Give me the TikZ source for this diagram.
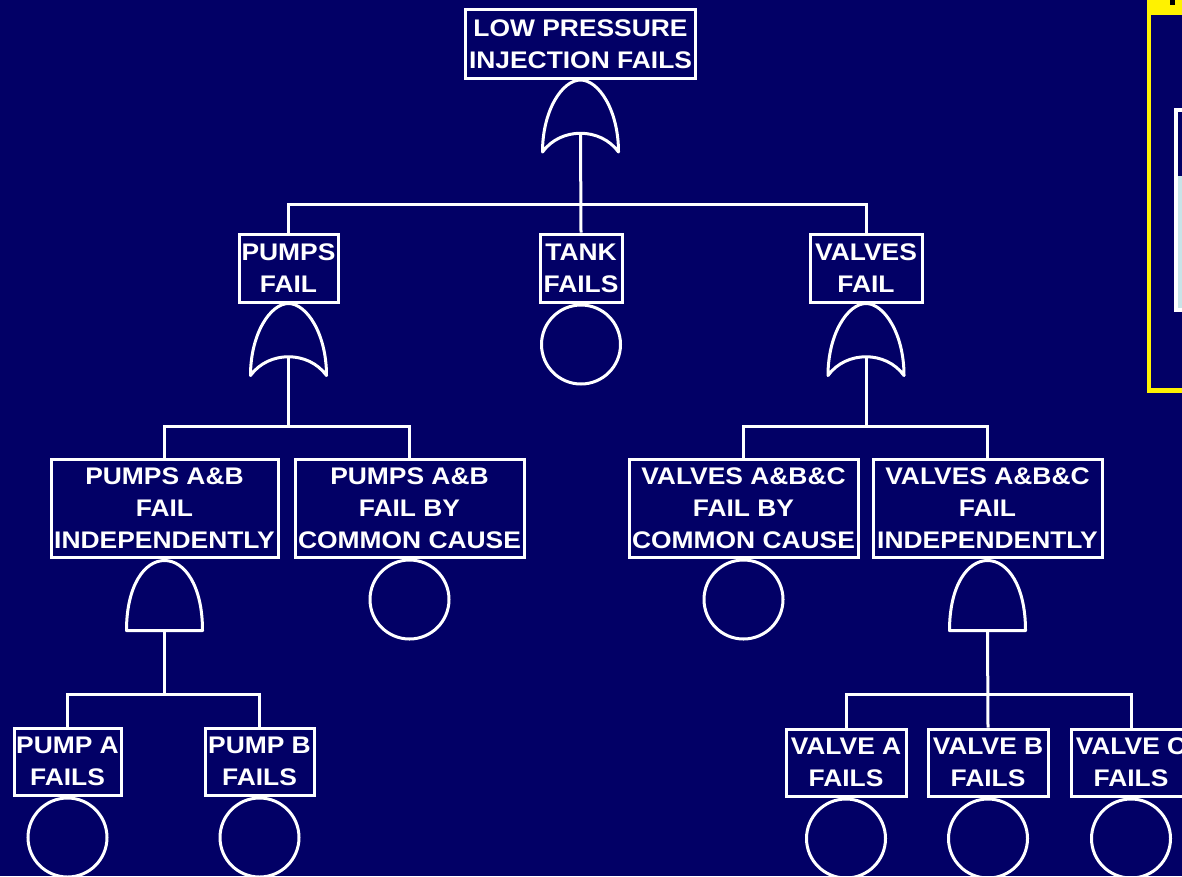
\documentclass[tikz,border=0pt]{standalone}
\usepackage{fontspec}
\setmainfont{Liberation Sans}[FakeStretch=1.1]
\definecolor{navy}{RGB}{2,0,102}
\definecolor{paleblue}{RGB}{200,228,232}
\begin{document}
\begin{tikzpicture}[x=1pt,y=-1pt,
  evbox/.style={draw=white, line width=3pt, text=white, align=center, inner sep=0pt,
    font=\bfseries\fontsize{24}{32}\selectfont},
  basic/.style={draw=white, line width=3pt, circle, minimum size=79pt, inner sep=0pt},
  wire/.style={draw=white, line width=3pt},
  gateline/.style={draw=white, line width=3pt, line join=round},
  orgate/.pic={
    \draw[gateline] (-38,72) .. controls (-38,30) and (-18,0) .. (0,0)
      .. controls (18,0) and (38,30) .. (38,72)
      .. controls (20,47) and (-20,47) .. (-38,72) -- cycle;
    \coordinate (-out) at (0,54);
  },
  andgate/.pic={
    \draw[gateline] (-38,70) .. controls (-38,25) and (-20,0) .. (0,0)
      .. controls (20,0) and (38,25) .. (38,70) -- cycle;
    \coordinate (-out) at (0,70);
  }]
\fill[navy] (0,0) rectangle (1182,876);
\useasboundingbox (0,0) rectangle (1182,876);
\clip (0,0) rectangle (1182,876);

% inset frame at the right
\fill[yellow] (1147,0) rectangle (1195,393);
\fill[navy] (1151,15) rectangle (1195,388);
\fill[paleblue] (1176,176) rectangle (1195,309);
\draw[white, line width=4pt] (1176,109.5) rectangle (1200,309.5);
\fill[black] (1170,0) rectangle (1175,5);

% top event
\node[evbox, minimum width=230pt, minimum height=69pt] (top) at (580.5,44) {LOW PRESSURE\\INJECTION FAILS};
\pic (g1) at (top.south) {orgate};

% second row
\node[evbox, minimum width=99pt, minimum height=68pt] (pumps) at (288.5,268) {PUMPS\\FAIL};
\node[evbox, minimum width=82pt, minimum height=68pt] (tank) at (581,268) {TANK\\FAILS};
\node[evbox, minimum width=112pt, minimum height=68pt] (valves) at (866,268) {VALVES\\FAIL};
\node[basic, anchor=north] (tankc) at (tank.south) {};
\pic (g2) at (pumps.south) {orgate};
\pic (g3) at (valves.south) {orgate};

\coordinate (bar1) at (581,204);
\draw[wire] (g1-out) -- (tank.north);
\draw[wire] (pumps.north) |- (bar1) -| (valves.north);

% third row
\node[evbox, minimum width=227pt, minimum height=98pt] (pai) at (164.5,508) {PUMPS A\&B\\FAIL\\INDEPENDENTLY};
\node[evbox, minimum width=229pt, minimum height=98pt] (pabc) at (409.5,508) {PUMPS A\&B\\FAIL BY\\COMMON CAUSE};
\node[evbox, minimum width=229pt, minimum height=98pt] (vabc) at (743.5,508) {VALVES A\&B\&C\\FAIL BY\\COMMON CAUSE};
\node[evbox, minimum width=229pt, minimum height=98pt] (vai) at (987.5,508) {VALVES A\&B\&C\\FAIL\\INDEPENDENTLY};
\node[basic, anchor=north] (pabcc) at (pabc.south) {};
\node[basic, anchor=north] (vabcc) at (vabc.south) {};
\pic (g4) at ([yshift=-2pt]pai.south) {andgate};
\pic (g5) at ([yshift=-2pt]vai.south) {andgate};

\coordinate (bar2) at (289,426);
\coordinate (bar3) at (867,426);
\draw[wire] (g2-out) -- (g2-out |- bar2);
\draw[wire] (pai.north) |- (bar2) -| (pabc.north);
\draw[wire] (g3-out) -- (g3-out |- bar3);
\draw[wire] (vabc.north) |- (bar3) -| (vai.north);

% bottom row
\node[evbox, minimum width=107pt, minimum height=67pt] (pa) at (67.5,761.5) {PUMP A\\FAILS};
\node[evbox, minimum width=109pt, minimum height=67pt] (pb) at (259.5,761.5) {PUMP B\\FAILS};
\node[evbox, minimum width=120pt, minimum height=67pt] (va) at (846,762.5) {VALVE A\\FAILS};
\node[evbox, minimum width=120pt, minimum height=67pt] (vb) at (988,762.5) {VALVE B\\FAILS};
\node[evbox, minimum width=120pt, minimum height=67pt] (vc) at (1131,762.5) {VALVE C\\FAILS};
\node[basic, anchor=north] (pac) at (pa.south) {};
\node[basic, anchor=north] (pbc) at (pb.south) {};
\node[basic, anchor=north] (vac) at (va.south) {};
\node[basic, anchor=north] (vbc) at (vb.south) {};
\node[basic, anchor=north] (vcc) at (vc.south) {};

\coordinate (bar4) at (164.5,694);
\coordinate (bar5) at (987.5,694);
\draw[wire] (g4-out) -- (g4-out |- bar4);
\draw[wire] (pa.north) |- (bar4) -| (pb.north);
\draw[wire] (g5-out) -- (vb.north);
\draw[wire] (va.north) |- (bar5) -| (vc.north);
\end{tikzpicture}
\end{document}
